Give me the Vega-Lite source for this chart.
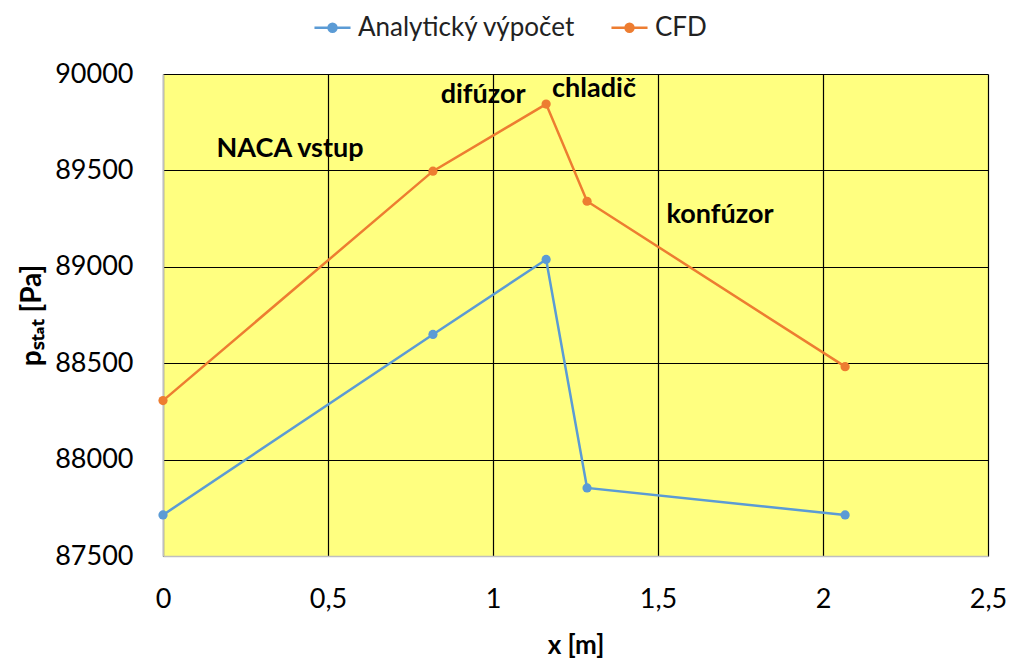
{
  "$schema": "https://vega.github.io/schema/vega-lite/v6.json",
  "width": 825,
  "height": 482,
  "autosize": {"type": "none"},
  "padding": {"left": 163, "top": 74, "right": 27, "bottom": 110},
  "background": "white",
  "config": {
    "font": "Lato",
    "view": {"fill": "#FFFF80", "stroke": null}
  },
  "datasets": {
    "series": [
      {"x": 0, "p": 87713, "series": "Analytický výpočet"},
      {"x": 0.818, "p": 88649, "series": "Analytický výpočet"},
      {"x": 1.161, "p": 89038, "series": "Analytický výpočet"},
      {"x": 1.285, "p": 87853, "series": "Analytický výpočet"},
      {"x": 2.067, "p": 87713, "series": "Analytický výpočet"},
      {"x": 0, "p": 88306, "series": "CFD"},
      {"x": 0.818, "p": 89496, "series": "CFD"},
      {"x": 1.161, "p": 89844, "series": "CFD"},
      {"x": 1.285, "p": 89340, "series": "CFD"},
      {"x": 2.067, "p": 88482, "series": "CFD"}
    ],
    "labels": [
      {"x": 0.385, "p": 89610, "label": "NACA vstup"},
      {"x": 0.97, "p": 89891, "label": "difúzor"},
      {"x": 1.306, "p": 89922, "label": "chladič"},
      {"x": 1.688, "p": 89267, "label": "konfúzor"}
    ]
  },
  "layer": [
    {
      "data": {"name": "series"},
      "mark": {"type": "line", "strokeWidth": 2.5, "point": {"size": 85, "filled": true}},
      "encoding": {
        "x": {
          "field": "x", "type": "quantitative",
          "scale": {"domain": [0, 2.5], "nice": false},
          "axis": {
            "title": "x [m]", "titleFontSize": 26, "titleFontWeight": "bold", "titleColor": "#000", "titlePadding": 20,
            "values": [0, 0.5, 1, 1.5, 2, 2.5],
            "format": ",.1~f", "formatType": "number",
            "labelExpr": "replace(datum.label, '.', ',')",
            "labelFontSize": 27, "labelColor": "#000", "labelPadding": 30,
            "labelFlush": false, "labelOverlap": false,
            "ticks": false, "grid": true, "gridColor": "#000", "gridWidth": 1.2, "gridOpacity": 1,
            "domainColor": "#BFBFBF", "domainWidth": 1.5
          }
        },
        "y": {
          "field": "p", "type": "quantitative",
          "scale": {"domain": [87500, 90000], "nice": false, "zero": false},
          "axis": {
            "title": "pₛₜₐₜ [Pa]", "titleFontSize": 28, "titleFontWeight": "bold", "titleColor": "#000", "titlePadding": 8,
            "values": [87500, 88000, 88500, 89000, 89500, 90000],
            "format": "d",
            "labelFontSize": 27, "labelColor": "#000", "labelPadding": 30,
            "labelFlush": false, "labelOverlap": false,
            "ticks": false, "grid": true, "gridColor": "#000", "gridWidth": 1.2, "gridOpacity": 1,
            "domainColor": "#BFBFBF", "domainWidth": 1.5
          }
        },
        "color": {
          "field": "series", "type": "nominal",
          "scale": {"domain": ["Analytický výpočet", "CFD"], "range": ["#5B9BD5", "#ED7D31"]},
          "legend": {
            "title": null, "orient": "none", "direction": "horizontal",
            "legendX": 150, "legendY": -66,
            "labelFontSize": 26, "labelColor": "#222", "labelLimit": 400,
            "symbolType": "M-1,0L1,0M-0.22,0A0.22,0.22 0 1,1 0.22,0A0.22,0.22 0 1,1 -0.22,0Z",
            "symbolSize": 1300, "symbolStrokeWidth": 2.5,
            "columnPadding": 30, "labelOffset": 6
          }
        }
      }
    },
    {
      "data": {"name": "labels"},
      "mark": {"type": "text", "fontSize": 27, "fontWeight": "bold", "color": "#000", "align": "center", "baseline": "middle"},
      "encoding": {
        "x": {"field": "x", "type": "quantitative"},
        "y": {"field": "p", "type": "quantitative"},
        "text": {"field": "label"}
      }
    }
  ]
}
